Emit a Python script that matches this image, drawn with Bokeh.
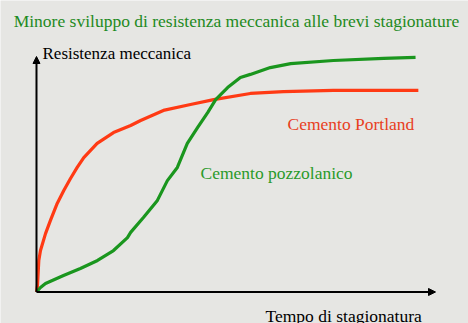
from bokeh.plotting import figure
from bokeh.models import Arrow, NormalHead, Label
from bokeh.embed import file_html
from bokeh.resources import INLINE

# Data (arbitrary units: time 0..100, strength 0..100)
portland_t = [0, 0.25, 0.58, 1.0, 2.26, 3.5, 5.19, 6.84, 8.52, 10.2, 11.85, 15.2, 19.3, 23.6, 26.1,
              31.8, 38.6, 44.4, 53.6, 61.9, 74.4, 95.7]
portland_r = [0, 2.8, 13.4, 17.6, 24.8, 30.4, 37.6, 43.1, 48.2, 52.9, 57.1, 63.1, 67.7, 70.7, 72.8,
              77.1, 79.6, 81.7, 84.3, 85.1, 85.6, 85.6]
pozz_t = [0, 1.0, 2.26, 6.77, 11.0, 15.3, 19.3, 22.8, 23.6, 26.8, 30.3, 32.8, 35.3, 37.8, 40.4,
          42.9, 44.9, 47.9, 51.1, 53.6, 58.6, 63.7, 74.4, 87.0, 95.0]
pozz_r = [0, 1.9, 3.6, 7.0, 10.0, 13.4, 17.6, 23.1, 25.3, 31.6, 38.9, 47.3, 52.9, 63.1, 69.9,
          76.2, 81.7, 86.8, 91.1, 92.4, 95.3, 97.0, 98.3, 99.2, 99.6]

title = "Minore sviluppo di resistenza meccanica alle brevi stagionature"
y_label = "Resistenza meccanica"
x_label = "Tempo di stagionatura"
portland_label = "Cemento Portland"
pozz_label = "Cemento pozzolanico"

W, H = 468, 323
p = figure(width=W, height=H, output_backend="svg", toolbar_location=None,
           x_range=(-9.02, 108.27), y_range=(-13.38, 123.78), min_border=0)
p.axis.visible = False
p.grid.visible = False
p.outline_line_color = None
p.background_fill_color = "#e6e6e3"
p.border_fill_color = "#e6e6e3"

RED = "#ff3a14"
GREEN = "#1a961e"

p.line(portland_t, portland_r, line_color=RED, line_width=3.2, line_join="round")
p.line(pozz_t, pozz_r, line_color=GREEN, line_width=3.2, line_join="round")

head = dict(size=7, fill_color="black", line_color="black")
p.add_layout(Arrow(end=NormalHead(**head), x_start=0, y_start=0, x_end=0, y_end=100,
                   line_color="black", line_width=2))
p.add_layout(Arrow(end=NormalHead(**head), x_start=0, y_start=0, x_end=100, y_end=0,
                   line_color="black", line_width=2))

FONT = "'Liberation Serif Bold', 'Liberation Serif', serif"
def lab(text, x, y, color, size, align="left"):
    p.add_layout(Label(x=x, y=y, x_units="screen", y_units="screen", text=text,
                       text_font=FONT, text_font_style="normal", text_font_size=size,
                       text_color=color, text_align=align, text_baseline="alphabetic"))

lab(title, 236, H - 20, "#1e8a22", "17.5px", "center")
lab(y_label, 42, H - 53, "black", "17px")
lab(x_label, 265, H - 315, "black", "17.5px")
lab(portland_label, 287, H - 123, "#e8401e", "17.5px")
lab(pozz_label, 200, H - 172, "#2a9a2a", "17.5px")

open("out.html", "w").write(file_html(p, INLINE))
